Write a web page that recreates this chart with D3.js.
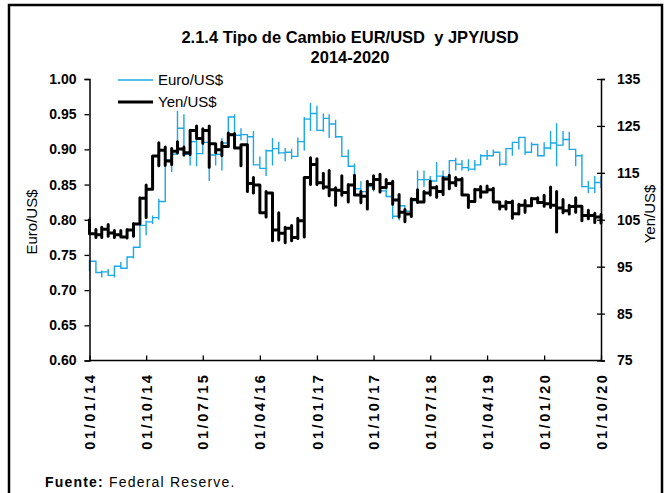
<!DOCTYPE html>
<html><head><meta charset="utf-8">
<script src="https://cdn.jsdelivr.net/npm/d3@7"></script>
<style>body{margin:0;background:#fff}svg{display:block}text{font-family:"Liberation Sans",Arial,sans-serif}</style>
</head><body><svg id="c" width="665" height="493"></svg>
<script>
const months = ["2014-01","2014-02","2014-03","2014-04","2014-05","2014-06","2014-07","2014-08","2014-09","2014-10","2014-11","2014-12",
"2015-01","2015-02","2015-03","2015-04","2015-05","2015-06","2015-07","2015-08","2015-09","2015-10","2015-11","2015-12",
"2016-01","2016-02","2016-03","2016-04","2016-05","2016-06","2016-07","2016-08","2016-09","2016-10","2016-11","2016-12",
"2017-01","2017-02","2017-03","2017-04","2017-05","2017-06","2017-07","2017-08","2017-09","2017-10","2017-11","2017-12",
"2018-01","2018-02","2018-03","2018-04","2018-05","2018-06","2018-07","2018-08","2018-09","2018-10","2018-11","2018-12",
"2019-01","2019-02","2019-03","2019-04","2019-05","2019-06","2019-07","2019-08","2019-09","2019-10","2019-11","2019-12",
"2020-01","2020-02","2020-03","2020-04","2020-05","2020-06","2020-07","2020-08","2020-09","2020-10"];

// Euro per US$ : monthly low / high / month-end
const eurLow = [.727,.724,.718,.720,.718,.730,.730,.745,.760,.778,.794,.800,
.826,.868,.893,.890,.877,.876,.893,.855,.877,.870,.908,.909,
.913,.885,.877,.873,.862,.877,.893,.883,.886,.889,.898,.926,
.926,.925,.916,.916,.889,.876,.851,.833,.833,.840,.839,.834,
.801,.799,.806,.806,.826,.847,.847,.855,.850,.862,.870,.870,
.869,.870,.877,.885,.891,.876,.877,.891,.900,.892,.901,.890,
.893,.900,.876,.909,.900,.876,.846,.838,.838,.845];
const eurHigh = [.741,.741,.728,.730,.735,.740,.747,.762,.792,.799,.806,.830,
.888,.893,.955,.950,.917,.916,.925,.925,.902,.916,.947,.950,
.930,.921,.926,.890,.900,.916,.911,.902,.901,.917,.946,.966,
.962,.951,.950,.942,.919,.900,.880,.855,.853,.862,.862,.856,
.835,.822,.821,.828,.870,.870,.862,.882,.870,.885,.888,.885,
.886,.885,.893,.899,.900,.897,.901,.910,.917,.917,.910,.908,
.910,.926,.937,.926,.925,.901,.893,.855,.862,.862];
const eurClose = [.741,.725,.726,.721,.734,.731,.747,.761,.792,.797,.803,.826,
.885,.893,.930,.893,.911,.894,.910,.892,.893,.909,.946,.920,
.921,.918,.878,.873,.898,.901,.895,.896,.890,.911,.943,.951,
.927,.944,.936,.918,.890,.876,.844,.840,.847,.858,.841,.833,
.805,.820,.812,.827,.857,.857,.855,.862,.861,.884,.879,.874,
.872,.878,.891,.891,.896,.879,.901,.910,.917,.896,.907,.891,
.902,.909,.906,.914,.900,.891,.847,.845,.853,.858];

// Yen per US$ : monthly low / high / month-end
const yenLow = [102.0,101.2,101.2,101.5,101.2,101.3,101.1,101.5,104.6,105.5,112.5,116.5,
116.6,116.8,119.3,118.8,118.9,122.3,121.3,116.2,119.3,118.7,120.7,120.3,
116.5,111.0,110.7,106.8,105.6,100.5,100.7,100.1,100.5,101.0,101.3,112.5,
112.5,111.7,110.1,108.1,110.2,108.8,110.3,108.6,107.3,111.6,110.9,111.9,
108.3,105.6,104.6,105.7,108.7,108.8,110.3,109.8,110.4,111.6,112.3,110.3,
107.6,109.4,109.8,110.9,108.8,107.3,107.3,105.3,106.2,106.6,108.3,108.6,
107.9,107.6,102.4,106.5,106.2,106.6,104.8,105.2,104.4,104.3];
const yenHigh = [105.0,102.9,103.4,104.0,102.7,102.7,102.9,104.2,109.7,112.4,118.6,121.4,
120.5,120.2,121.6,120.5,124.1,125.0,124.4,125.0,120.9,121.5,123.5,123.4,
121.0,121.0,114.0,112.0,111.0,110.0,106.5,103.4,103.8,105.3,114.0,118.2,
118.0,114.9,115.5,111.8,114.4,112.5,114.5,111.0,113.2,114.4,114.7,113.6,
113.2,110.4,107.2,109.5,111.4,111.0,113.2,112.1,114.0,114.5,114.0,113.8,
109.8,111.5,112.1,112.2,111.7,108.8,108.9,109.0,108.3,109.1,109.6,109.7,
110.2,112.0,111.0,109.3,108.1,109.7,107.8,107.0,106.4,106.1];
const yenClose = [102.0,101.8,103.0,102.2,101.8,101.3,102.8,104.1,109.6,111.5,118.6,119.8,
117.5,119.6,120.1,119.3,124.0,122.3,124.0,121.2,119.9,120.6,123.1,120.3,
121.0,112.7,112.4,106.5,110.7,102.8,102.1,103.2,101.2,104.8,114.0,116.8,
112.9,112.0,111.4,111.3,110.8,112.4,110.3,110.0,112.5,113.6,111.9,112.7,
109.2,106.6,106.2,109.3,108.8,110.7,111.8,111.0,113.7,112.9,113.5,110.3,
108.9,111.4,110.9,111.4,108.8,107.9,108.7,106.3,108.1,108.0,109.5,108.7,
108.4,108.1,107.5,106.9,107.8,107.9,105.9,105.9,105.6,104.6];

const tickLabels = ["01/01/14","01/10/14","01/07/15","01/04/16","01/01/17","01/10/17","01/07/18","01/04/19","01/01/20","01/10/20"];
const leftTicks = [0.60,0.65,0.70,0.75,0.80,0.85,0.90,0.95,1.00];
const rightTicks = [75,85,95,105,115,125,135];
const seriesNames = ["Euro/US$","Yen/US$"];

const svg = d3.select("#c");
const L = 89.5, R = 601, T = 79, B = 360.5;
const parseTick = d3.timeParse("%d/%m/%y");
const parseMonth = d3.timeParse("%Y-%m");
const tickDates = tickLabels.map(parseTick);
const x = d3.scaleTime().domain([tickDates[0], tickDates[tickDates.length-1]]).range([L, R]);
const yL = d3.scaleLinear().domain([0.60, 1.00]).range([B, T]);
const yR = d3.scaleLinear().domain([75, 135]).range([B, T]);

// frame
svg.append("rect").attr("x",9).attr("y",5).attr("width",653).attr("height",500)
  .attr("fill","none").attr("stroke","#000").attr("stroke-width",2.5);

// title
svg.append("text").attr("x",350).attr("y",43).attr("text-anchor","middle")
  .attr("font-size",16.5).attr("font-weight","bold").style("white-space","pre").text("2.1.4 Tipo de Cambio EUR/USD  y JPY/USD");
svg.append("text").attr("x",350).attr("y",63).attr("text-anchor","middle")
  .attr("font-size",16.5).attr("font-weight","bold").text("2014-2020");

function stepPath(lo, hi, cl, y) {
  const p = d3.path();
  months.forEach((m, i) => {
    const xi = x(parseMonth(m));
    if (i === 0) { p.moveTo(xi, y(lo[i])); }
    else { p.lineTo(xi, y(cl[i-1])); }
    const up = cl[i] >= (i ? cl[i-1] : lo[i]);
    if (up) { p.lineTo(xi, y(lo[i])); p.lineTo(xi, y(hi[i])); }
    else { p.lineTo(xi, y(hi[i])); p.lineTo(xi, y(lo[i])); }
    p.lineTo(xi, y(cl[i]));
  });
  return p.toString();
}

svg.append("path").attr("d", stepPath(eurLow, eurHigh, eurClose, yL))
  .attr("fill","none").attr("stroke","#1ba8e4").attr("stroke-width",1.4).attr("stroke-linejoin","miter");
svg.append("path").attr("d", stepPath(yenLow, yenHigh, yenClose, yR))
  .attr("fill","none").attr("stroke","#000").attr("stroke-width",3).attr("stroke-linejoin","round");

// axes
const axL = svg.append("g").attr("transform",`translate(${L},0)`)
  .call(d3.axisLeft(yL).tickValues(leftTicks).tickFormat(d3.format(".2f")).tickSize(5).tickPadding(8));
const axR = svg.append("g").attr("transform",`translate(${R},0)`)
  .call(d3.axisRight(yR).tickValues(rightTicks).tickFormat(d3.format("d")).tickSize(4).tickPadding(12));
axR.selectAll(".tick line").attr("x1",-4);
const axB = svg.append("g").attr("transform",`translate(0,${B})`)
  .call(d3.axisBottom(x).tickValues(tickDates).tickFormat((d,i)=>tickLabels[i]).tickSize(-5).tickPadding(0));
[axL, axR, axB].forEach(g => {
  g.select(".domain").attr("stroke","#000").attr("stroke-width",1.5);
  g.selectAll(".tick line").attr("stroke","#000").attr("stroke-width",1.3);
  g.selectAll("text").attr("font-size",14).attr("font-weight","bold").attr("fill","#000")
   .attr("font-family","Liberation Sans, Arial, sans-serif");
});
axB.select(".domain").attr("d",`M${L},0H${R}`);
axB.selectAll(".tick text").attr("transform","rotate(-90)").attr("text-anchor","end")
  .attr("x",-12).attr("y",0).attr("dy","0.35em").attr("font-size",14.5).attr("letter-spacing","2.6px");

// axis titles
svg.append("text").attr("transform","translate(37,222) rotate(-90)").attr("text-anchor","middle")
  .attr("font-size",15).text("Euro/US$");
svg.append("text").attr("transform","translate(655,214) rotate(-90)").attr("text-anchor","middle")
  .attr("font-size",15).text("Yen/US$");

// legend
const leg = [{name:seriesNames[0], color:"#1ba8e4", w:1.4, y:80},{name:seriesNames[1], color:"#000", w:3, y:102}];
leg.forEach(d => {
  svg.append("line").attr("x1",118).attr("x2",153).attr("y1",d.y).attr("y2",d.y)
    .attr("stroke",d.color).attr("stroke-width",d.w);
  svg.append("text").attr("x",158).attr("y",d.y+5).attr("font-size",15).text(d.name);
});

// source
const src = svg.append("text").attr("x",45).attr("y",487).attr("font-size",14).attr("letter-spacing","1.2px");
src.append("tspan").attr("font-weight","bold").text("Fuente: ");
src.append("tspan").text("Federal Reserve.");
</script></body></html>
